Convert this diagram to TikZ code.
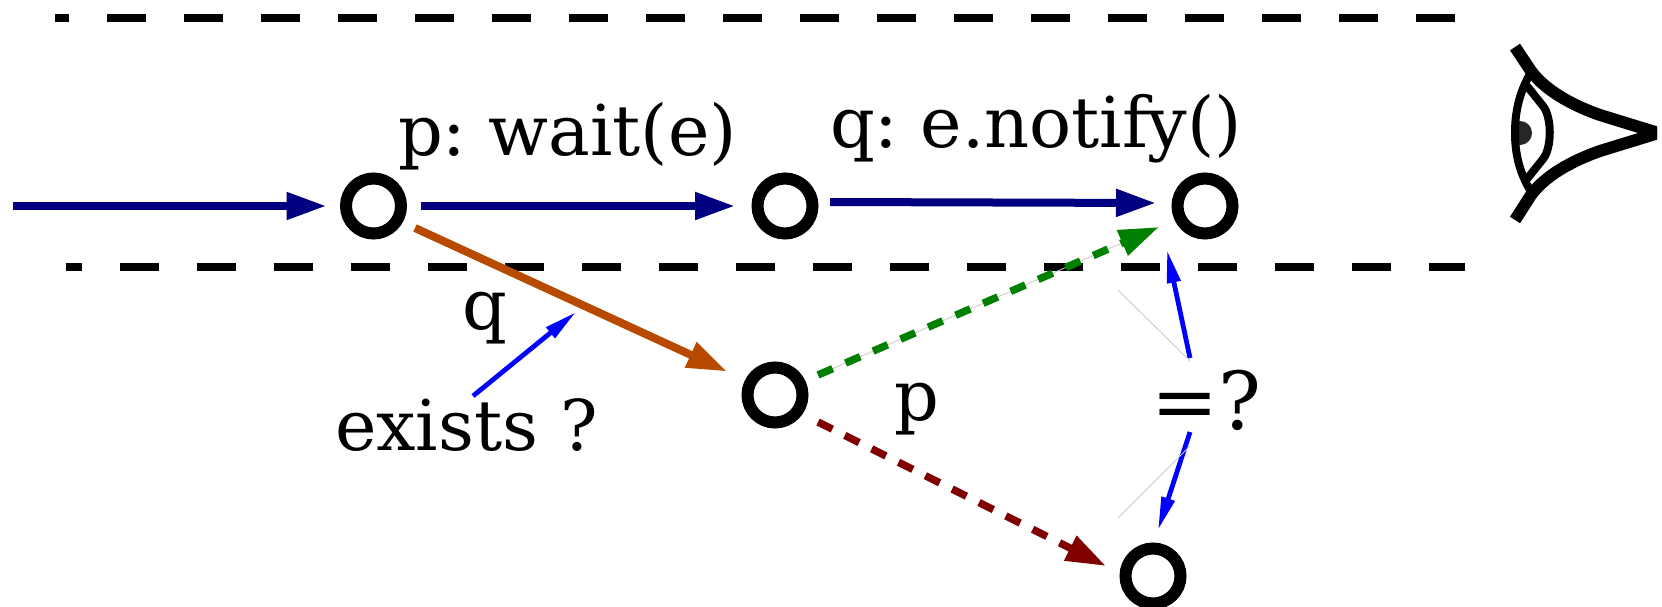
\documentclass[tikz,border=0pt]{standalone}
\usepackage{fontspec}
\setmainfont{DejaVu Serif}
\usetikzlibrary{arrows.meta}
\definecolor{navyc}{RGB}{0,0,128}
\definecolor{orangec}{RGB}{184,74,0}
\definecolor{greenc}{RGB}{0,128,0}
\definecolor{redc}{RGB}{128,0,0}
\definecolor{bluec}{RGB}{0,0,255}
\tikzset{
  state/.style={circle,draw=black,line width=12pt,minimum size=55pt,inner sep=0pt,outer sep=0pt},
  label text/.style={anchor=base west,inner sep=0pt,outer sep=0pt,font=\fontsize{70}{74}\selectfont\frenchspacing},
  big text/.style={label text,font=\fontsize{80}{84}\selectfont},
  bigarrow/.style={line width=8pt,-{Triangle[length=40pt,width=26pt]}},
  navyarrow/.style={bigarrow,draw=navyc},
  orangearrow/.style={bigarrow,draw=orangec},
  greenarrow/.style={line width=7.5pt,dash pattern=on 16pt off 14pt,draw=greenc,-{Triangle[length=40pt,width=26pt]}},
  redarrow/.style={line width=7.5pt,dash pattern=on 16pt off 14pt,draw=redc,-{Triangle[length=40pt,width=26pt]}},
  bluearrow/.style={line width=4.8pt,draw=bluec,-{Triangle[length=33pt,width=13pt]}},
  guide/.style={line width=0.8pt,draw=black!22},
  sep/.style={line width=8pt,draw=black},
  eye/.style={line width=12pt,draw=black},
  eyethin/.style={line width=8pt,draw=black},
}
\begin{document}
\begin{tikzpicture}[x=1pt,y=-1pt]
\useasboundingbox (0,0) rectangle (1662,607);
% separators
\coordinate (s1a) at (55,18.5); \coordinate (s1b) at (1455,18.5);
\coordinate (s2a) at (66,266.5); \coordinate (s2b) at (1465,266.5);
\draw[sep,dash pattern=on 39pt off 38pt,dash phase=25pt] (s1a) -- (s1b);
\draw[sep,dash pattern=on 39pt off 38pt,dash phase=23pt] (s2a) -- (s2b);
% states
\node[state] (c1) at (373.5,206) {};
\node[state] (c2) at (785,206) {};
\node[state] (c3) at (1205,206) {};
\node[state] (c4) at (775,395) {};
\node[state] (c5) at (1153,576) {};
% labels
\node[label text] (lp) at (398,155) {p: wait(e)};
\node[label text] (lq) at (830,148) {q: e.notify()};
\node[label text] (q) at (462,329) {q};
\node[label text] (p) at (894,420.5) {p};
\node[label text] (ex) at (335,450) {exists ?};
\node[big text] (eq) at (1151,429) {=?};
% connectors
\coordinate (start) at (13,206);
\draw[navyarrow] (start) -- ([shift={(-47,0)}]c1.center);
\draw[navyarrow] ([shift={(47,0)}]c1.center) -- ([shift={(-50,0)}]c2.center);
\draw[navyarrow] ([shift={(45,-4)}]c2.center) -- ([shift={(-49,-3)}]c3.center);
\draw[orangearrow] ([shift={(41.5,22)}]c1.center) -- ([shift={(-48,-23.5)}]c4.center);
\draw[guide] ([shift={(43,-20)}]c4.center) -- ([shift={(384,-168)}]c4.center);
\draw[greenarrow] ([shift={(43,-20)}]c4.center) -- ([shift={(-46,21)}]c3.center);
\draw[redarrow] ([shift={(43,27)}]c4.center) -- ([shift={(-47,-10)}]c5.center);
\coordinate (eqtop) at (1190,358);
\coordinate (eqbot) at (1190,432);
\coordinate (extop) at (473,396);
\coordinate (exarrow) at (576,312);
\draw[bluearrow] (eqtop) -- ([shift={(-38,44)}]c3.center);
\draw[bluearrow] (eqbot) -- ([shift={(5,-46)}]c5.center);
\draw[bluearrow] (extop) -- (exarrow);
\coordinate (g1a) at (1118,290); \coordinate (g1b) at (1190,361);
\coordinate (g2a) at (1118,518); \coordinate (g2b) at (1190,446);
\draw[guide] (g1a) -- (g1b);
\draw[guide] (g2a) -- (g2b);
% eye
\begin{scope}
\clip (1500,30) rectangle (1657,240);
\draw[eye] (1515,47) -- (1531,71) .. controls (1548,94) and (1580,108) .. (1600,115) -- (1665,135);
\draw[eye] (1515,220) -- (1531,195) .. controls (1548,172) and (1580,158) .. (1600,151) -- (1665,131);
\end{scope}
\begin{scope}
\clip (1528,78) .. controls (1518,95) and (1513,115) .. (1513,133) .. controls (1513,150) and (1518,170) .. (1528,187) -- (1560,187) -- (1560,78) -- cycle;
\fill[black!85] (1520,133) circle (12);
\end{scope}
\draw[eyethin] (1530,74) .. controls (1518,95) and (1515,115) .. (1515,133) .. controls (1515,150) and (1518,170) .. (1530,190);
\draw[eyethin] (1527,86) -- (1543,106) .. controls (1552,117) and (1552,148) .. (1543,159) -- (1527,179);
\end{tikzpicture}
\end{document}
